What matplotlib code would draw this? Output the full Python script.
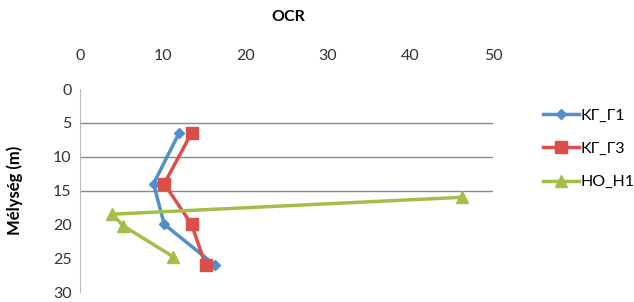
import matplotlib
matplotlib.use("Agg")
import matplotlib.pyplot as plt

plt.rcParams['font.family'] = ['Lato', 'DejaVu Sans']

# data (OCR vs depth)
kg1_ocr = [12.0, 8.9, 10.2, 16.3]
kg1_depth = [6.5, 14.0, 20.0, 26.0]
kg3_ocr = [13.5, 10.2, 13.5, 15.2]
kg3_depth = [6.5, 14.0, 20.0, 26.0]
ho1_ocr = [46.3, 3.9, 5.2, 11.3]
ho1_depth = [16.0, 18.5, 20.2, 24.8]
labels = ['KГ_Г1', 'KГ_Г3', 'HO_H1']
x_ticks = [0, 10, 20, 30, 40, 50]
y_ticks = [0, 5, 10, 15, 20, 25, 30]

fig = plt.figure(figsize=(6.34, 3.02), dpi=100)
ax = fig.add_axes([80 / 634, 10 / 302, 413 / 634, 203 / 302])

ax.plot(kg1_ocr, kg1_depth, color='#4F8FCC', lw=2.5, marker='D', ms=5.5, label=labels[0])
ax.plot(kg3_ocr, kg3_depth, color='#DB4F4B', lw=2.5, marker='s', ms=8, label=labels[1])
ax.plot(ho1_ocr, ho1_depth, color='#A3BF4A', lw=2.5, marker='^', ms=8, label=labels[2])

ax.set_xlim(0, 50)
ax.set_ylim(30, 0)
ax.set_xticks(x_ticks)
ax.set_yticks(y_ticks)
ax.xaxis.tick_top()
ax.tick_params(length=0, labelsize=11.5, colors='#333333', pad=6)
ax.tick_params(axis='x', pad=19)

# horizontal gridlines (only the upper ones are visible in the reference)
for yv in y_ticks[1:4]:
    ax.axhline(yv, color='#888888', lw=1, zorder=0)

for side in ['top', 'right', 'bottom']:
    ax.spines[side].set_visible(False)
ax.spines['left'].set_color('#BBBBBB')

fig.text(288 / 634, 1 - 17 / 302, 'OCR', ha='center', va='center', fontsize=11.5, fontweight='bold')
fig.text(15 / 634, 1 - 190 / 302, 'Mélység (m)', ha='center', va='center', rotation=90,
         fontsize=12, fontweight='bold')

ax.legend(loc='upper left', bbox_to_anchor=(537 / 634, 1 - 102 / 302), bbox_transform=fig.transFigure,
          frameon=False, fontsize=11.5, handlelength=2.2, handletextpad=0.1, labelspacing=1.2,
          borderaxespad=0)

plt.savefig('out.png', dpi=100)
